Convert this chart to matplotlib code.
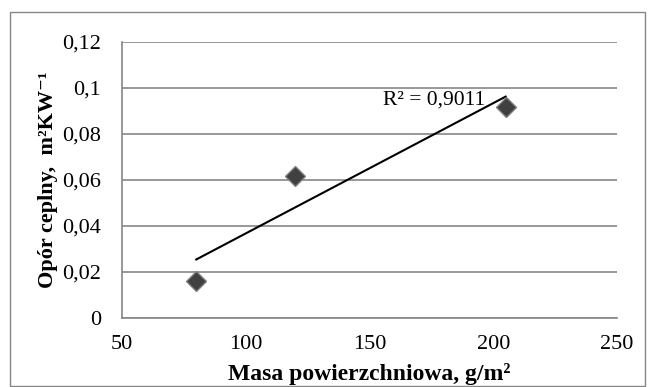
import matplotlib
matplotlib.use("Agg")
import matplotlib.pyplot as plt
import numpy as np
from matplotlib.patches import Rectangle

plt.rcParams['font.family'] = ['Liberation Serif', 'DejaVu Serif']

# Data
masa = [80, 120, 205]                 # g/m2
opor = [0.0162, 0.0617, 0.0919]       # m2K/W
x_ticks = [50, 100, 150, 200, 250]
y_ticks = [0, 0.02, 0.04, 0.06, 0.08, 0.1, 0.12]

W, H = 655, 387
fig = plt.figure(figsize=(W / 100, H / 100), dpi=100)

# outer chart border
fig.patches.append(Rectangle((10 / W, 1 / H), 635 / W, 374 / H, transform=fig.transFigure,
                             fill=False, edgecolor='#868686', linewidth=1))

ax = fig.add_axes([122 / W, 1 - 318 / H, 495 / W, 276 / H])

# linear trend line
coef = np.polyfit(masa, opor, 1)
xs = np.array([min(masa), max(masa)])
ax.plot(xs, np.polyval(coef, xs), color='black', linewidth=1.5, zorder=3)

ax.plot(masa, opor, linestyle='none', marker='D', markersize=10,
        markerfacecolor='#404040', markeredgecolor='#7f7f7f', markeredgewidth=1, zorder=4)

ax.text(155.5, 0.0948, 'R² = 0,9011', fontsize=15.5, ha='left', va='center', zorder=5)

ax.set_xlim(50, 250)
ax.set_ylim(0, 0.12)
ax.set_xticks(x_ticks)
ax.set_yticks(y_ticks)
ax.yaxis.set_major_formatter(plt.FuncFormatter(lambda v, p: f'{v:g}'.replace('.', ',')))
ax.tick_params(length=0, labelsize=16)
ax.tick_params(axis='y', pad=15)
ax.tick_params(axis='x', pad=12)

ax.grid(axis='y', color='#868686', linewidth=1.2)
ax.set_axisbelow(True)
for s in ['top', 'right']:
    ax.spines[s].set_visible(False)
for s in ['left', 'bottom']:
    ax.spines[s].set_color('#868686')
    ax.spines[s].set_linewidth(1.2)

ax.set_xlabel('Masa powierzchniowa, g/m²', fontsize=17, fontweight='bold', labelpad=6.5)
ax.set_ylabel('Opór ceplny,  m²KW⁻¹', fontsize=16, fontweight='bold', labelpad=3)

fig.savefig('out.png', dpi=100)
